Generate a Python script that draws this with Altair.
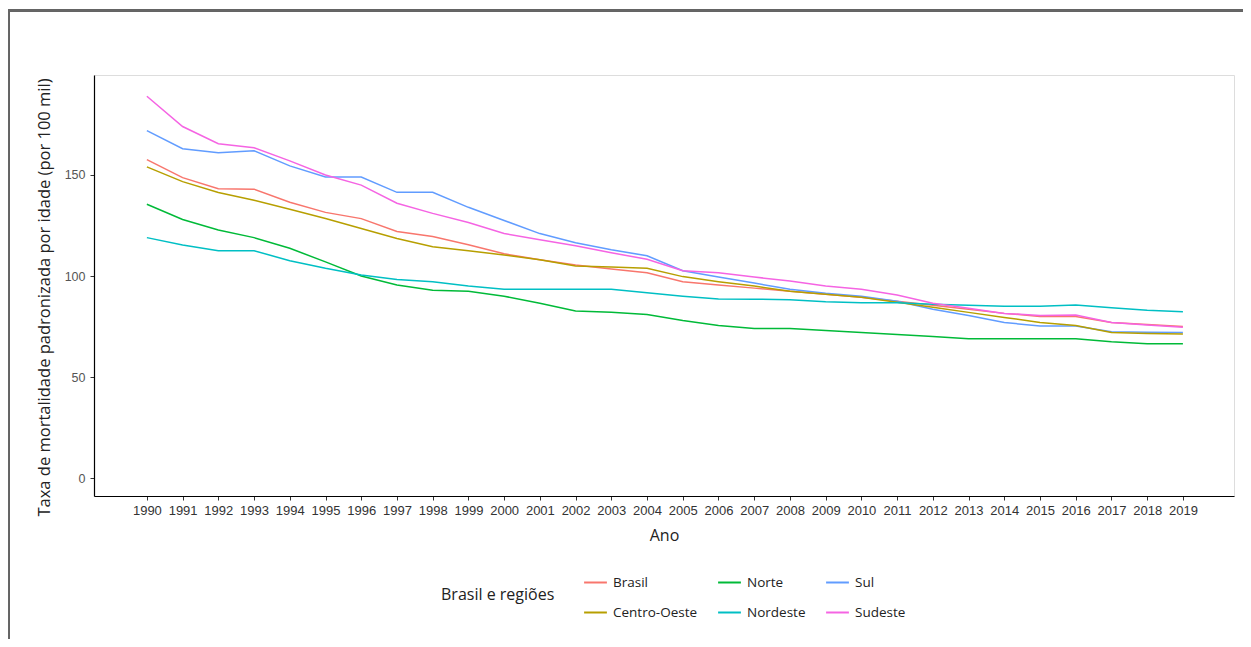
import altair as alt
import pandas as pd

years = list(range(1990, 2020))

brasil = [157.6, 148.7, 143.2, 143.0, 136.5, 131.5, 128.4, 122.0, 119.5, 115.5,
          111.0, 108.0, 105.4, 103.5, 101.6, 97.2, 95.5, 94.0, 92.5, 91.0,
          89.5, 87.5, 85.5, 83.5, 81.5, 80.0, 80.0, 77.0, 76.0, 75.0]
centro_oeste = [154.0, 146.7, 141.3, 137.5, 133.0, 128.5, 123.5, 118.6, 114.5, 112.5,
                110.4, 108.0, 105.0, 104.5, 103.8, 99.7, 97.2, 95.0, 92.5, 91.0,
                89.5, 87.0, 84.5, 82.0, 79.5, 77.0, 75.5, 72.0, 71.5, 71.3]
norte = [135.5, 128.0, 122.8, 119.0, 113.7, 107.0, 100.0, 95.5, 93.0, 92.5,
         90.0, 86.5, 82.7, 82.0, 81.0, 78.0, 75.5, 74.0, 74.0, 73.0,
         72.0, 71.0, 70.0, 69.0, 69.0, 69.0, 69.0, 67.5, 66.5, 66.5]
nordeste = [119.0, 115.3, 112.5, 112.5, 107.6, 103.8, 100.5, 98.3, 97.2, 95.0,
            93.4, 93.4, 93.4, 93.4, 91.7, 90.0, 88.6, 88.5, 88.3, 87.3,
            86.8, 86.8, 86.0, 85.5, 85.0, 85.0, 85.6, 84.3, 83.0, 82.3]
sul = [172.0, 163.0, 161.0, 162.0, 154.5, 149.0, 149.0, 141.4, 141.4, 134.0,
       127.5, 121.0, 116.5, 113.0, 110.0, 102.6, 99.5, 96.5, 93.5, 91.5,
       90.0, 87.5, 83.5, 80.5, 77.0, 75.2, 75.2, 72.4, 72.2, 72.0]
sudeste = [189.0, 174.0, 165.5, 163.5, 157.0, 150.0, 145.0, 136.0, 131.0, 126.5,
           121.0, 118.0, 115.0, 111.5, 108.3, 102.6, 101.6, 99.5, 97.5, 95.0,
           93.5, 90.6, 86.5, 84.0, 81.5, 80.5, 80.7, 77.0, 75.7, 74.6]

series = {
    "Brasil": brasil,
    "Norte": norte,
    "Sul": sul,
    "Centro-Oeste": centro_oeste,
    "Nordeste": nordeste,
    "Sudeste": sudeste,
}
legend_order = ["Brasil", "Norte", "Sul", "Centro-Oeste", "Nordeste", "Sudeste"]
colors = ["#F8766D", "#00BA38", "#619CFF", "#B79F00", "#00BFC4", "#F564E3"]
y_ticks = [0, 50, 100, 150]

rows = []
for name, vals in series.items():
    for yr, v in zip(years, vals):
        rows.append({"Ano": yr, "Taxa": v, "Regiao": name})
df = pd.DataFrame(rows)

lines = alt.Chart(df).mark_line(strokeWidth=1.5).encode(
    x=alt.X("Ano:Q",
            scale=alt.Scale(domain=[1988.52, 2020.43], nice=False, zero=False),
            axis=alt.Axis(title="Ano", values=years, format="d", grid=False,
                          labelFlush=False, labelOverlap=False,
                          labelFont="Liberation Sans", labelFontSize=13,
                          labelColor="#333333", labelPadding=4,
                          tickSize=4, tickColor="#333333",
                          domainColor="#000000", domainWidth=1.2,
                          titleFont="Open Sans", titleFontSize=16,
                          titleFontWeight="normal", titleColor="#222222",
                          titlePadding=10)),
    y=alt.Y("Taxa:Q",
            scale=alt.Scale(domain=[-8.9, 199.5], nice=False, zero=False),
            axis=alt.Axis(title="Taxa de mortalidade padronizada por idade (por 100 mil)",
                          values=y_ticks, grid=False,
                          labelFont="Liberation Sans", labelFontSize=12.5,
                          labelColor="#555555", labelPadding=5,
                          tickSize=4, tickColor="#333333",
                          domainColor="#000000", domainWidth=1.2,
                          titleFont="Open Sans", titleFontSize=16.5,
                          titleFontWeight="normal", titleColor="#222222",
                          titlePadding=12, titleY=222)),
    color=alt.Color("Regiao:N",
                    scale=alt.Scale(domain=legend_order, range=colors),
                    legend=alt.Legend(title="Brasil e regiões", orient="none",
                                      legendX=347, legendY=495,
                                      direction="horizontal", columns=3,
                                      titleOrient="left", titleAnchor="middle",
                                      titleBaseline="middle",
                                      titleFont="Open Sans", titleFontSize=16,
                                      titleFontWeight="normal", titleColor="#222222",
                                      titlePadding=28,
                                      labelFont="Open Sans", labelFontSize=13.5,
                                      labelColor="#222222", labelOffset=5,
                                      symbolType="stroke", symbolSize=520,
                                      symbolStrokeWidth=2,
                                      columnPadding=16, rowPadding=11)),
)

frame_top = alt.Chart(df).mark_rule(color="#666666", strokeWidth=1.5).encode(
    x=alt.value(-85.5), x2=alt.value(1200), y=alt.value(-64.5))
frame_left = alt.Chart(df).mark_rule(color="#666666", strokeWidth=1.5).encode(
    x=alt.value(-85.5), y=alt.value(-64.5), y2=alt.value(600))

chart = alt.layer(frame_top, frame_left, lines).properties(
    width=1140, height=421,
    autosize=alt.AutoSizeParams(type="none"),
    padding={"left": 86, "top": 67, "right": 9, "bottom": 143},
).configure_view(stroke=None).configure(background="white")

chart.save("out.html", embed_options={"renderer": "svg", "actions": False})
